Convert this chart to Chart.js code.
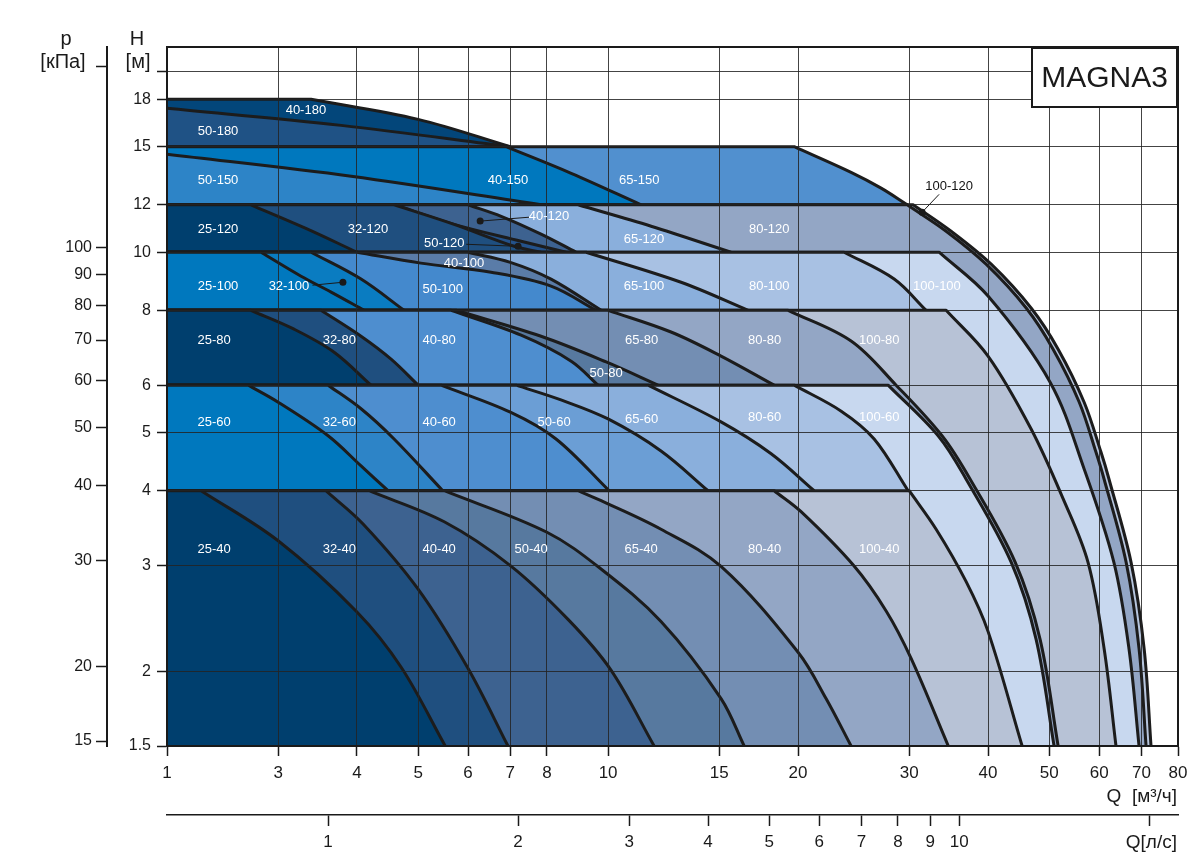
<!DOCTYPE html>
<html>
<head>
<meta charset="utf-8">
<script src="https://cdn.jsdelivr.net/npm/chart.js@4.4.1/dist/chart.umd.min.js"></script>
<style>
html,body{margin:0;padding:0;background:#fff;}
#wrap{width:1202px;height:866px;position:relative;}
</style>
</head>
<body>
<div id="wrap"><canvas id="c" width="1202" height="866"></canvas></div>
<script>
// ---------- axis ticks ----------
const qTicks = [2,3,4,5,6,7,8,10,15,20,30,40,50,60,70,80];
const qTickLabels = ['1','3','4','5','6','7','8','10','15','20','30','40','50','60','70','80'];
const hTicks = [1.5,2,3,4,5,6,8,10,12,15,18,20];
const hTickLabels = ['1.5','2','3','4','5','6','8','10','12','15','18',''];
const pTicks = [15,20,30,40,50,60,70,80,90,100,200];
const pTickLabels = ['15','20','30','40','50','60','70','80','90','100',''];
const lsTicks = [1,2,3,4,5,6,7,8,9,10,20];
const lsTickLabels = ['1','2','3','4','5','6','7','8','9','10',''];

// ---------- pump curves: [Q m3/h, H m] ----------
// band 40
const c25_40  = [[2,4],[2.265,4],[3.0,3.30],[4.0,2.51],[4.70,2.03],[5.52,1.5]];
const c32_40  = [[2,4],[3.57,4],[4.09,3.52],[5.0,2.74],[6.0,2.02],[6.94,1.5]];
const c40_40  = [[2,4],[4.18,4],[5.50,3.55],[7.0,3.0],[8.64,2.44],[10.1,2.01],[11.83,1.5]];
const c50_40  = [[2,4],[5.5,4],[8.0,3.41],[9.75,2.96],[12.13,2.42],[15.1,1.80],[16.43,1.5]];
const c65_40  = [[2,4],[8.96,4],[9.75,3.85],[12.13,3.45],[15.1,2.99],[20.0,2.15],[22.15,1.80],[24.27,1.5]];
const c80_40  = [[2,4],[18.33,4],[20.22,3.69],[24.5,3.0],[27.58,2.52],[30.21,2.10],[34.6,1.5]];
const c100_40 = [[2,4],[30.0,4],[33.1,3.45],[36.93,2.82],[40.0,2.33],[45.3,1.5]];
// band 60
const c25_60  = [[2,6],[2.69,6],[3.0,5.62],[3.60,4.94],[4.06,4.40],[4.48,4.0]];
const c32_60  = [[2,6],[3.60,6],[4.06,5.48],[4.58,4.88],[5.47,4.0]];
const c40_60  = [[2,6],[5.435,6],[7.0,5.41],[8.27,4.88],[10.04,4.0]];
const c50_60  = [[2,6],[7.15,6],[8.42,5.67],[10.0,5.27],[12.13,4.66],[14.40,4.0]];
const c65_60  = [[2,6],[11.57,6],[15.1,5.21],[18.13,4.61],[21.21,4.0]];
const c80_60  = [[2,6],[19.72,6],[23.41,5.43],[26.40,4.88],[29.88,4.0]];
const c100_60 = [[2,6],[27.78,6],[33.34,4.94],[36.93,4.18],[43.52,3.04],[47.67,2.26],[50.9,1.5]];
// band 80
const c25_80  = [[2,8],[2.716,8],[3.18,7.44],[3.68,6.81],[4.21,6.0]];
const c32_80  = [[2,8],[3.508,8],[4.06,7.24],[4.53,6.63],[5.0,6.0]];
const c40_80  = [[2,8],[5.64,8],[7.28,7.27],[8.74,6.58],[9.64,6.0]];
const c50_80  = [[2,8],[5.74,8],[7.83,7.24],[9.93,6.56],[12.0,6.0]];
const c65_80  = [[2,8],[10,8],[12.58,7.36],[15.1,6.71],[18.33,6.0]];
const c80_80  = [[2,8],[19.29,8],[24.27,7.11],[28.6,6.0],[33.82,4.94],[37.48,4.18],[44.16,3.04],[48.37,2.26],[51.66,1.5]];
const c100_80 = [[2,8],[34.33,8],[40.0,6.71],[46.81,5.07],[52.6,3.88],[57.6,3.04],[61.1,2.18],[63.8,1.5]];
// band 100
const c25_100  = [[2,10],[2.818,10],[3.262,9.12],[3.64,8.58],[4.105,8.0]];
const c32_100  = [[2,10],[3.383,10],[4.06,9.02],[4.75,8.0]];
const c50_100  = [[2,10],[4.0,10],[5.05,9.59],[6.525,9.26],[8.12,8.78],[9.57,8.0]];
const c40_100  = [[2,10],[6.0,10],[7.0,9.62],[8.12,9.02],[9.75,8.0]];
const c65_100  = [[2,10],[9.23,10],[13.05,8.91],[16.67,8.0]];
const c80_100  = [[2,10],[23.66,10],[28.4,9.02],[31.91,8.0]];
const c100_100 = [[2,10],[33.46,10],[40.0,8.45],[50.17,6.07],[56.8,4.35],[63.3,3.04],[66.9,2.18],[69.4,1.5]];
// band 120
const c25_120  = [[2,12],[2.716,12],[3.32,10.96],[4.0,10]];
const c32_120  = [[2,12],[4.58,12],[5.70,11.13],[7.10,10.23],[7.83,10]];
const c50_120  = [[2,12],[4.58,12],[5.70,11.13],[7.28,10.43],[8.58,10]];
const c40_120  = [[2,12],[6.0,12],[6.77,11.48],[7.83,10.72],[8.90,10]];
const c65_120  = [[2,12],[8.96,12],[11.70,11.05],[15.66,10]];
const c80_120  = [[2,12],[29.78,12],[34.33,10.84],[39.72,9.55],[45.98,8.07],[50.72,6.89],[55.8,5.62],[59.3,4.64],[61.1,4.18],[66.2,3.04],[69.4,2.18],[71.2,1.5]];
const c100_120 = [[2,12],[30.43,12],[34.96,10.84],[40.46,9.55],[46.81,8.07],[51.66,6.89],[56.8,5.62],[60.4,4.64],[62.2,4.18],[67.4,3.04],[70.7,2.18],[72.5,1.5]];
// band 150
const c50_150 = [[2,14.57],[3.916,13.39],[7.83,12]];
const c40_150 = [[2,15],[6.89,15],[8.74,13.54],[11.28,12]];
const c65_150 = [[2,15],[19.72,15],[24.27,13.59],[27.08,12.79],[29.78,12]];
// band 180
const c50_180 = [[2,17.38],[3.775,16.28],[7.0,15]];
const c40_180 = [[2,18],[3.383,18],[5.0,16.66],[7.0,15]];

// drawing order: first = on top
const pumps = [
  ['25-40',c25_40],['32-40',c32_40],['40-40',c40_40],['50-40',c50_40],['65-40',c65_40],['80-40',c80_40],['100-40',c100_40],
  ['25-60',c25_60],['32-60',c32_60],['40-60',c40_60],['50-60',c50_60],['65-60',c65_60],['80-60',c80_60],['100-60',c100_60],
  ['25-80',c25_80],['32-80',c32_80],['40-80',c40_80],['50-80',c50_80],['65-80',c65_80],['80-80',c80_80],['100-80',c100_80],
  ['25-100',c25_100],['32-100',c32_100],['50-100',c50_100],['40-100',c40_100],['65-100',c65_100],['80-100',c80_100],['100-100',c100_100],
  ['25-120',c25_120],['32-120',c32_120],['50-120',c50_120],['40-120',c40_120],['65-120',c65_120],['80-120',c80_120],['100-120',c100_120],
  ['50-150',c50_150],['40-150',c40_150],['65-150',c65_150],
  ['50-180',c50_180],['40-180',c40_180]
];

const regionColors = {
  '25-40':'#003f6e','32-40':'#1f4f7f','40-40':'#3d6290','50-40':'#57799f','65-40':'#738eb3','80-40':'#93a6c5','100-40':'#b7c2d6',
  '25-60':'#0078be','32-60':'#2d84c7','40-60':'#4e8ecf','50-60':'#6b9ed5','65-60':'#8aafdc','80-60':'#a8c1e3','100-60':'#c8d8ef',
  '25-80':'#003f6e','32-80':'#1f4f7f','40-80':'#4e8ecf','50-80':'#57799f','65-80':'#738eb3','80-80':'#93a6c5','100-80':'#b7c2d6',
  '25-100':'#0078be','32-100':'#0a7cc1','50-100':'#4489cd','40-100':'#5a7ca8','65-100':'#8aafdc','80-100':'#a8c1e3','100-100':'#c8d8ef',
  '25-120':'#003f6e','32-120':'#1f4f7f','50-120':'#24528a','40-120':'#3d6290','65-120':'#8aafdc','80-120':'#93a6c5','100-120':'#b7c6de',
  '50-150':'#2d84c7','40-150':'#0078be','65-150':'#5190cf',
  '50-180':'#1f5285','40-180':'#03467a'
};

// region labels: [text, Q, H, colour]
const regionLabels = [
  ['40-180',3.32,17.25],['50-180',2.41,15.91],
  ['50-150',2.41,13.18],['40-150',6.94,13.18],['65-150',11.2,13.18],
  ['25-120',2.41,10.92],['32-120',4.165,10.92],['40-120',8.06,11.48],['50-120',5.50,10.35],['65-120',11.4,10.51],['80-120',18.0,10.92],['100-120',34.7,12.88,'#111'],
  ['40-100',5.91,9.59],['25-100',2.41,8.78],['32-100',3.12,8.78],['50-100',5.47,8.68],['65-100',11.4,8.78],['80-100',18.0,8.78],['100-100',33.2,8.78],
  ['25-80',2.375,7.13],['32-80',3.75,7.13],['40-80',5.40,7.13],['65-80',11.3,7.13],['80-80',17.7,7.13],['100-80',26.9,7.13],['50-80',9.93,6.28],
  ['25-60',2.375,5.21],['32-60',3.75,5.21],['40-60',5.40,5.21],['50-60',8.21,5.21],['65-60',11.3,5.27],['80-60',17.7,5.31],['100-60',26.9,5.31],
  ['25-40',2.375,3.19],['32-40',3.75,3.19],['40-40',5.40,3.19],['50-40',7.55,3.19],['65-40',11.28,3.19],['80-40',17.7,3.19],['100-40',26.9,3.19]
];
// pointer lines: [fromQ, fromH, dotQ, dotH]
const pointers = [
  [7.494,11.44,6.27,11.27],
  [5.96,10.31,7.20,10.23],
  [3.40,8.81,3.80,8.91],
  [33.46,12.49,31.45,11.66]
];

// ---------- build ----------
function toData(pts){
  const out = pts.map(p => ({x:p[0], y:p[1]}));
  if (pts.length > 2 && pts[0][1] === pts[1][1]) out.splice(1,0,{x:pts[1][0], y:pts[1][1]});
  return out;
}
const datasets = pumps.map(([name, pts]) => ({
  label: name,
  data: toData(pts),
  backgroundColor: regionColors[name],
  borderColor: '#1c1c1c',
  borderWidth: 3,
  fill: 'start',
  tension: 0.35,
  pointRadius: 0,
  pointHoverRadius: 0,
  borderJoinStyle: 'round',
  borderCapStyle: 'butt'
}));

const sans = '"Liberation Sans", Arial, Helvetica, sans-serif';
const narrow = '"Liberation Sans Narrow", "Arial Narrow", "Liberation Sans", Arial, sans-serif';
const gridColor = 'rgba(35,35,35,0.85)';
const HtoP = 9.81;

const overlay = {
  id: 'overlay',
  afterDraw(chart){
    const ctx = chart.ctx, xs = chart.scales.x, ys = chart.scales.y, a = chart.chartArea;
    ctx.save();
    ctx.strokeStyle = '#1a1a1a'; ctx.lineWidth = 2;
    ctx.strokeRect(a.left, a.top, a.right - a.left, a.bottom - a.top);

    // pointer lines and dots
    ctx.strokeStyle = '#1a1a1a'; ctx.fillStyle = '#1a1a1a'; ctx.lineWidth = 1;
    for (const [fq, fh, dq, dh] of pointers){
      const x1 = xs.getPixelForValue(fq), y1 = ys.getPixelForValue(fh);
      const x2 = xs.getPixelForValue(dq), y2 = ys.getPixelForValue(dh);
      ctx.beginPath(); ctx.moveTo(x1, y1); ctx.lineTo(x2, y2); ctx.stroke();
      ctx.beginPath(); ctx.arc(x2, y2, 3.5, 0, Math.PI*2); ctx.fill();
    }

    // region labels
    ctx.font = '13px ' + sans;
    ctx.textAlign = 'center'; ctx.textBaseline = 'middle';
    for (const [t, q, h, col] of regionLabels){
      ctx.fillStyle = col || '#ffffff';
      ctx.fillText(t, xs.getPixelForValue(q), ys.getPixelForValue(h));
    }

    // MAGNA3 box
    ctx.fillStyle = '#fff';
    ctx.fillRect(1032, 48, 145, 59);
    ctx.strokeStyle = '#1a1a1a'; ctx.lineWidth = 2;
    ctx.strokeRect(1032, 48, 145, 59);
    ctx.fillStyle = '#1a1a1a';
    ctx.font = '30px ' + sans;
    ctx.fillText('MAGNA3', 1104.5, 79);

    // axis captions
    ctx.font = '20px ' + sans;
    ctx.fillStyle = '#1a1a1a';
    ctx.textAlign = 'center';
    ctx.fillText('p', 66, 39);
    ctx.fillText('[кПа]', 63, 62);
    ctx.fillText('H', 137, 39);
    ctx.fillText('[м]', 138, 62);
    ctx.textAlign = 'right';
    ctx.font = '19px ' + narrow;
    ctx.fillText('Q  [м³/ч]', 1177, 797);
    ctx.fillText('Q[л/с]', 1177, 843);
    ctx.restore();
  }
};

new Chart(document.getElementById('c'), {
  type: 'line',
  data: { datasets },
  options: {
    responsive: false,
    devicePixelRatio: 1,
    animation: false,
    events: [],
    layout: { padding: { top: 47, right: 24, left: 0, bottom: 0 } },
    plugins: { legend: { display: false }, tooltip: { enabled: false } },
    elements: { line: { capBezierPoints: true } },
    scales: {
      x: {
        type: 'logarithmic', position: 'bottom', weight: 0, min: 2, max: 80,
        afterFit: s => { s.height = 69; },
        afterBuildTicks: s => { s.ticks = qTicks.map(v => ({ value: v })); },
        ticks: { callback: (v, i) => qTickLabels[i], autoSkip: false, maxRotation: 0, padding: 7,
                 color: '#1a1a1a', font: { family: narrow, size: 17 } },
        grid: { color: gridColor, lineWidth: 1, z: 1, tickLength: 10, tickColor: '#1a1a1a', tickWidth: 1.5 },
        border: { display: true, color: '#1a1a1a', width: 2, z: 1 }
      },
      xl: {
        type: 'logarithmic', position: 'bottom', weight: 1, min: 2 / 3.6, max: 80 / 3.6,
        afterFit: s => { s.height = 51; },
        afterBuildTicks: s => { s.ticks = lsTicks.map(v => ({ value: v })); },
        ticks: { callback: (v, i) => lsTickLabels[i], autoSkip: false, maxRotation: 0, padding: 6,
                 color: '#1a1a1a', font: { family: narrow, size: 17 } },
        grid: { drawOnChartArea: false, tickLength: 11, tickColor: '#1a1a1a', tickWidth: 1.5 },
        border: { display: true, color: '#1a1a1a', width: 1.5 }
      },
      y: {
        type: 'logarithmic', position: 'left', weight: 0, min: 1.5, max: 22,
        afterFit: s => { s.width = 60; },
        afterBuildTicks: s => { s.ticks = hTicks.map(v => ({ value: v })); },
        ticks: { callback: (v, i) => hTickLabels[i], autoSkip: false, padding: 6,
                 color: '#1a1a1a', font: { family: sans, size: 16 } },
        grid: { color: gridColor, lineWidth: 1, z: 1, tickLength: 10, tickColor: '#1a1a1a', tickWidth: 1.5 },
        border: { display: true, color: '#1a1a1a', width: 2, z: 1 }
      },
      p: {
        type: 'logarithmic', position: 'left', weight: 1, min: 1.5 * HtoP, max: 22 * HtoP,
        afterFit: s => { s.width = 107; },
        afterBuildTicks: s => { s.ticks = pTicks.map(v => ({ value: v })); },
        ticks: { callback: (v, i) => pTickLabels[i], autoSkip: false, padding: 4,
                 color: '#1a1a1a', font: { family: sans, size: 16 } },
        grid: { drawOnChartArea: false, tickLength: 11, tickColor: '#1a1a1a', tickWidth: 1.5 },
        border: { display: true, color: '#1a1a1a', width: 2 }
      }
    }
  },
  plugins: [overlay]
});
</script>
</body>
</html>
